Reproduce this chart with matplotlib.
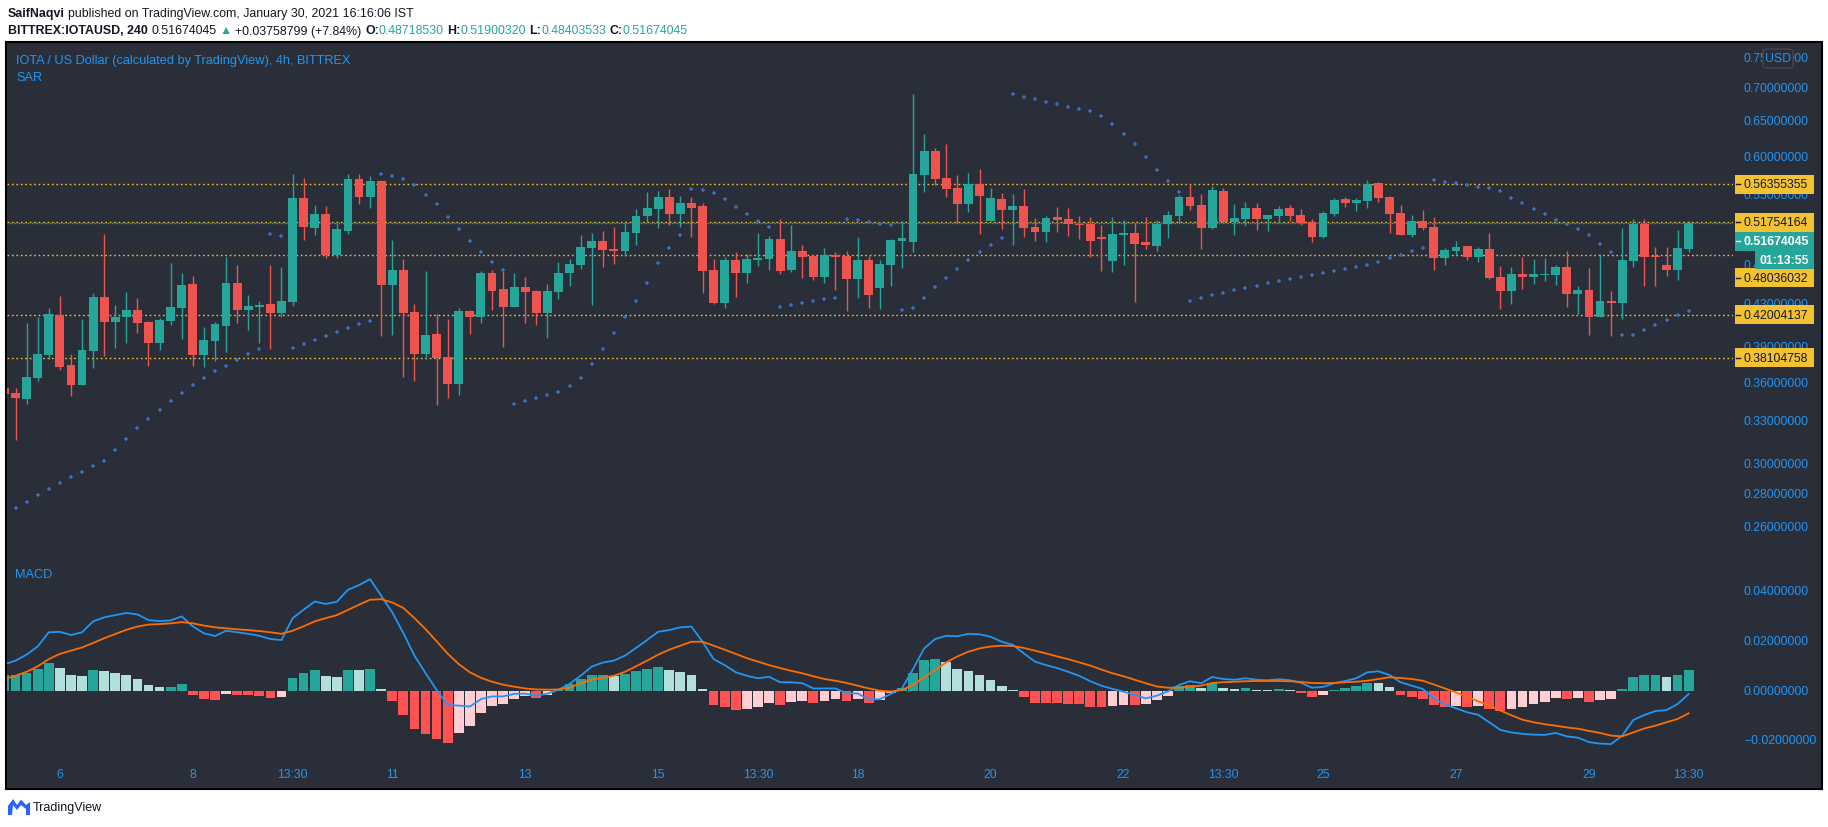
import numpy as np
import matplotlib
matplotlib.use("Agg")
import matplotlib.pyplot as plt
from matplotlib.patches import Rectangle, FancyBboxPatch, Polygon
from matplotlib.lines import Line2D
from matplotlib.transforms import blended_transform_factory

plt.rcParams['font.family'] = ['Liberation Sans', 'DejaVu Sans']

# ---------------- data ----------------
opens = [0.3559, 0.3519, 0.3473, 0.3643, 0.3837, 0.4193, 0.3749, 0.3586, 0.3871, 0.4370,
         0.4133, 0.4177, 0.4243, 0.4130, 0.3942, 0.4142, 0.4265, 0.4500, 0.3837, 0.3960,
         0.4096, 0.4511, 0.4246, 0.4275, 0.4301, 0.4218, 0.4324, 0.5465, 0.5110, 0.5271,
         0.4802, 0.5072, 0.5704, 0.5481, 0.5679, 0.4493, 0.4645, 0.4225, 0.3846, 0.4020,
         0.3816, 0.3594, 0.4234, 0.4180, 0.4613, 0.4450, 0.4275, 0.4470, 0.4430, 0.4218,
         0.4423, 0.4618, 0.4701, 0.4884, 0.4960, 0.4870, 0.4849, 0.5050, 0.5247, 0.5331,
         0.5477, 0.5271, 0.5404, 0.5367, 0.4645, 0.4311, 0.4751, 0.4613, 0.4751, 0.4762,
         0.4982, 0.4645, 0.4849, 0.4794, 0.4572, 0.4805, 0.4794, 0.4551, 0.4751, 0.4460,
         0.4698, 0.4960, 0.4949, 0.5756, 0.6077, 0.5717, 0.5590, 0.5392, 0.5640, 0.5189,
         0.5452, 0.5319, 0.5367, 0.5118, 0.5061, 0.5236, 0.5212, 0.5153, 0.5153, 0.5005,
         0.4740, 0.5027, 0.5050, 0.4949, 0.4904, 0.5153, 0.5247, 0.5477, 0.5379, 0.5107,
         0.5552, 0.5177, 0.5212, 0.5343, 0.5212, 0.5247, 0.5343, 0.5259, 0.5177, 0.5005,
         0.5271, 0.5452, 0.5404, 0.5428, 0.5653, 0.5477, 0.5283, 0.5027, 0.5189, 0.5118,
         0.4773, 0.4849, 0.4904, 0.4783, 0.4870, 0.4572, 0.4430, 0.4603, 0.4572, 0.4592,
         0.4592, 0.4676, 0.4400, 0.4440, 0.4177, 0.4331, 0.4311, 0.4740, 0.5153, 0.4794,
         0.4698, 0.4645, 0.48718530]
highs = [0.3567, 0.3559, 0.4121, 0.4180, 0.4263, 0.4380, 0.3843, 0.4158, 0.4410, 0.5038,
         0.4292, 0.4420, 0.4360, 0.4142, 0.4168, 0.4722, 0.4616, 0.4585, 0.4084, 0.4130,
         0.4783, 0.4698, 0.4390, 0.4331, 0.4698, 0.4680, 0.5769, 0.5717, 0.5379, 0.5367,
         0.5165, 0.5769, 0.5769, 0.5743, 0.5691, 0.4971, 0.4762, 0.4301, 0.4634, 0.4205,
         0.4158, 0.4263, 0.4243, 0.4634, 0.4645, 0.4634, 0.4613, 0.4572, 0.4440, 0.4500,
         0.4730, 0.4762, 0.5027, 0.5050, 0.5072, 0.5118, 0.5177, 0.5331, 0.5539, 0.5552,
         0.5577, 0.5489, 0.5477, 0.5404, 0.4762, 0.4783, 0.4837, 0.4816, 0.5050, 0.5016,
         0.5212, 0.5141, 0.4915, 0.4805, 0.4881, 0.4837, 0.4849, 0.5005, 0.4794, 0.4751,
         0.4982, 0.5189, 0.6911, 0.6314, 0.6118, 0.6173, 0.5756, 0.5782, 0.5834, 0.5590,
         0.5527, 0.5514, 0.5577, 0.5224, 0.5247, 0.5355, 0.5343, 0.5247, 0.5236, 0.5141,
         0.5236, 0.5200, 0.5165, 0.5236, 0.5200, 0.5307, 0.5502, 0.5640, 0.5514, 0.5615,
         0.5590, 0.5392, 0.5416, 0.5404, 0.5259, 0.5367, 0.5379, 0.5331, 0.5212, 0.5307,
         0.5465, 0.5477, 0.5465, 0.5691, 0.5666, 0.5489, 0.5379, 0.5259, 0.5319, 0.5236,
         0.4881, 0.4960, 0.4904, 0.4892, 0.5050, 0.4687, 0.4676, 0.4783, 0.4762, 0.4773,
         0.4698, 0.4849, 0.4480, 0.4666, 0.4816, 0.4430, 0.5107, 0.5212, 0.5212, 0.4892,
         0.4892, 0.5084, 0.51900320]
lows = [0.3503, 0.3167, 0.3434, 0.3618, 0.3796, 0.3709, 0.3497, 0.3586, 0.3726, 0.3828,
        0.3897, 0.3942, 0.4032, 0.3743, 0.3880, 0.4105, 0.3978, 0.3743, 0.3734, 0.3785,
        0.3862, 0.4124, 0.4059, 0.3942, 0.3889, 0.4180, 0.4285, 0.4974, 0.5031, 0.4776,
        0.4776, 0.5042, 0.5394, 0.5347, 0.4005, 0.4014, 0.3651, 0.3618, 0.3796, 0.3427,
        0.3481, 0.3505, 0.4023, 0.4124, 0.4246, 0.3906, 0.4275, 0.4124, 0.4105, 0.3987,
        0.4353, 0.4483, 0.4658, 0.4294, 0.4676, 0.4708, 0.4798, 0.4915, 0.5177, 0.5107,
        0.5141, 0.5118, 0.5005, 0.4410, 0.4301, 0.4263, 0.4370, 0.4511, 0.4687, 0.4645,
        0.4603, 0.4624, 0.4561, 0.4541, 0.4511, 0.4440, 0.4234, 0.4360, 0.4263, 0.4253,
        0.4480, 0.4666, 0.4837, 0.5539, 0.5627, 0.5477, 0.5165, 0.5295, 0.5038, 0.5189,
        0.5095, 0.4915, 0.5005, 0.4960, 0.4949, 0.5061, 0.5016, 0.4982, 0.4783, 0.4634,
        0.4624, 0.4698, 0.4321, 0.4870, 0.4849, 0.4994, 0.5165, 0.5319, 0.4870, 0.5095,
        0.5165, 0.5027, 0.5130, 0.5084, 0.5072, 0.5165, 0.5189, 0.5141, 0.4949, 0.4994,
        0.5247, 0.5355, 0.5307, 0.5343, 0.5416, 0.5050, 0.5027, 0.5005, 0.5084, 0.4645,
        0.4698, 0.4805, 0.4751, 0.4730, 0.4551, 0.4253, 0.4301, 0.4450, 0.4500, 0.4531,
        0.4490, 0.4272, 0.4205, 0.4011, 0.4177, 0.4002, 0.4158, 0.4676, 0.4480, 0.4480,
        0.4582, 0.4541, 0.48403533]
closes = [0.3511, 0.3481, 0.3649, 0.3842, 0.4205, 0.3734, 0.3586, 0.3877, 0.4370, 0.4133,
          0.4177, 0.4243, 0.4124, 0.3942, 0.4149, 0.4272, 0.4490, 0.3837, 0.3966, 0.4112,
          0.4511, 0.4246, 0.4282, 0.4295, 0.4218, 0.4331, 0.5465, 0.5122, 0.5271, 0.4802,
          0.5095, 0.5704, 0.5481, 0.5679, 0.4493, 0.4645, 0.4218, 0.3846, 0.4011, 0.3810,
          0.3594, 0.4234, 0.4180, 0.4613, 0.4433, 0.4275, 0.4470, 0.4420, 0.4218, 0.4430,
          0.4613, 0.4708, 0.4892, 0.4960, 0.4859, 0.4851, 0.5061, 0.5247, 0.5343, 0.5477,
          0.5271, 0.5404, 0.5343, 0.4634, 0.4311, 0.4751, 0.4613, 0.4762, 0.4773, 0.4982,
          0.4634, 0.4849, 0.4783, 0.4572, 0.4805, 0.4783, 0.4551, 0.4751, 0.4390, 0.4708,
          0.4971, 0.4994, 0.5769, 0.6077, 0.5704, 0.5577, 0.5392, 0.5640, 0.5489, 0.5465,
          0.5319, 0.5367, 0.5107, 0.5061, 0.5224, 0.5200, 0.5153, 0.5141, 0.4960, 0.4982,
          0.5038, 0.5050, 0.4926, 0.4915, 0.5153, 0.5259, 0.5477, 0.5367, 0.5107, 0.5565,
          0.5177, 0.5224, 0.5343, 0.5212, 0.5259, 0.5331, 0.5247, 0.5165, 0.5005, 0.5283,
          0.5440, 0.5404, 0.5440, 0.5640, 0.5465, 0.5271, 0.5027, 0.5189, 0.5107, 0.4773,
          0.4859, 0.4892, 0.4783, 0.4870, 0.4561, 0.4430, 0.4603, 0.4572, 0.4603, 0.4603,
          0.4676, 0.4400, 0.4440, 0.4177, 0.4331, 0.4311, 0.4751, 0.5153, 0.4783, 0.4783,
          0.4645, 0.4881, 0.51674045]
sar = [np.nan, 0.2712, 0.2750, 0.2793, 0.2831, 0.2870, 0.2909, 0.2942, 0.2982, 0.3016,
       0.3092, 0.3170, 0.3249, 0.3316, 0.3384, 0.3454, 0.3516, 0.3581, 0.3638, 0.3695,
       0.3737, 0.3789, 0.3840, 0.3884, 0.5034, 0.5012, 0.3893, 0.3928, 0.3963, 0.3999,
       0.4036, 0.4072, 0.4109, 0.4137, 0.5765, 0.5739, 0.5700, 0.5623, 0.5498, 0.5387,
       0.5231, 0.5092, 0.4955, 0.4834, 0.4727, 0.4642, 0.3430, 0.3454, 0.3477, 0.3501,
       0.3524, 0.3572, 0.3638, 0.3754, 0.3884, 0.4027, 0.4175, 0.4328, 0.4507, 0.4716,
       0.4878, 0.5023, 0.5573, 0.5560, 0.5523, 0.5448, 0.5351, 0.5267, 0.5185, 0.5115,
       0.4269, 0.4289, 0.4309, 0.4328, 0.4348, 0.4358, 0.5208, 0.5197, 0.5173, 0.5150,
       0.5138, 0.4241, 0.4260, 0.4358, 0.4467, 0.4558, 0.4652, 0.4748, 0.4834, 0.4911,
       0.4989, 0.6906, 0.6858, 0.6827, 0.6782, 0.6751, 0.6706, 0.6675, 0.6646, 0.6571,
       0.6454, 0.6310, 0.6169, 0.5991, 0.5817, 0.5674, 0.5535, 0.4328, 0.4358, 0.4387,
       0.4407, 0.4437, 0.4457, 0.4477, 0.4507, 0.4528, 0.4548, 0.4569, 0.4590, 0.4610,
       0.4631, 0.4652, 0.4673, 0.4694, 0.4726, 0.4769, 0.4802, 0.4845, 0.4878, 0.5687,
       0.5661, 0.5648, 0.5623, 0.5598, 0.5585, 0.5548, 0.5461, 0.5399, 0.5327, 0.5267,
       0.5196, 0.5150, 0.5092, 0.5023, 0.4922, 0.4834, 0.4008, 0.4008, 0.4054, 0.4100,
       0.4146, 0.4193, 0.4231]
macd_line = [0.0106, 0.0121, 0.0145, 0.0178, 0.0235, 0.0237, 0.0224, 0.0235, 0.0279, 0.0295,
             0.0304, 0.0313, 0.0307, 0.0284, 0.0280, 0.0283, 0.0299, 0.0259, 0.0231, 0.0220,
             0.0241, 0.0235, 0.0229, 0.0221, 0.0208, 0.0204, 0.0291, 0.0326, 0.0359, 0.0349,
             0.0358, 0.0406, 0.0425, 0.0449, 0.0382, 0.0315, 0.0232, 0.0141, 0.0071, 0.0003,
             -0.0058, -0.0060, -0.0064, -0.0034, -0.0023, -0.0023, -0.0013, -0.0012, -0.0020, -0.0012,
             0.0004, 0.0027, 0.0060, 0.0097, 0.0113, 0.0121, 0.0141, 0.0172, 0.0204, 0.0237,
             0.0244, 0.0255, 0.0258, 0.0197, 0.0127, 0.0103, 0.0074, 0.0060, 0.0050, 0.0056,
             0.0034, 0.0034, 0.0030, 0.0009, 0.0009, 0.0009, -0.0011, -0.0011, -0.0036, -0.0034,
             -0.0013, 0.0009, 0.0087, 0.0170, 0.0208, 0.0221, 0.0219, 0.0229, 0.0227, 0.0217,
             0.0197, 0.0185, 0.0150, 0.0117, 0.0103, 0.0091, 0.0076, 0.0060, 0.0038, 0.0020,
             0.0007, -0.0004, -0.0017, -0.0031, -0.0020, -0.0003, 0.0023, 0.0038, 0.0030, 0.0055,
             0.0047, 0.0044, 0.0050, 0.0044, 0.0042, 0.0046, 0.0042, 0.0032, 0.0012, 0.0015,
             0.0030, 0.0039, 0.0050, 0.0074, 0.0078, 0.0063, 0.0034, 0.0020, 0.0007, -0.0031,
             -0.0056, -0.0071, -0.0087, -0.0097, -0.0127, -0.0158, -0.0168, -0.0174, -0.0177, -0.0178,
             -0.0170, -0.0184, -0.0189, -0.0207, -0.0213, -0.0215, -0.0181, -0.0118, -0.0098, -0.0082,
             -0.0078, -0.0054, -0.0013]
signal_line = [0.0047, 0.0060, 0.0076, 0.0098, 0.0127, 0.0148, 0.0161, 0.0174, 0.0192, 0.0211,
               0.0228, 0.0245, 0.0258, 0.0266, 0.0268, 0.0271, 0.0276, 0.0271, 0.0262, 0.0255,
               0.0251, 0.0247, 0.0244, 0.0240, 0.0235, 0.0229, 0.0241, 0.0259, 0.0279, 0.0292,
               0.0304, 0.0325, 0.0346, 0.0366, 0.0368, 0.0355, 0.0333, 0.0292, 0.0248, 0.0199,
               0.0149, 0.0107, 0.0074, 0.0052, 0.0036, 0.0024, 0.0016, 0.0009, 0.0005, 0.0004,
               0.0005, 0.0012, 0.0030, 0.0044, 0.0052, 0.0060, 0.0076, 0.0098, 0.0121, 0.0145,
               0.0165, 0.0181, 0.0197, 0.0197, 0.0181, 0.0165, 0.0148, 0.0131, 0.0117, 0.0103,
               0.0091, 0.0080, 0.0070, 0.0058, 0.0047, 0.0040, 0.0031, 0.0020, 0.0009, 0.0000,
               -0.0003, 0.0003, 0.0023, 0.0054, 0.0083, 0.0114, 0.0138, 0.0157, 0.0170, 0.0178,
               0.0181, 0.0180, 0.0172, 0.0161, 0.0150, 0.0138, 0.0127, 0.0114, 0.0101, 0.0085,
               0.0070, 0.0058, 0.0044, 0.0030, 0.0017, 0.0012, 0.0012, 0.0016, 0.0020, 0.0031,
               0.0034, 0.0036, 0.0038, 0.0039, 0.0039, 0.0039, 0.0038, 0.0035, 0.0031, 0.0030,
               0.0031, 0.0034, 0.0036, 0.0040, 0.0047, 0.0054, 0.0051, 0.0047, 0.0040, 0.0025,
               0.0009, -0.0007, -0.0025, -0.0043, -0.0059, -0.0080, -0.0099, -0.0117, -0.0127, -0.0135,
               -0.0141, -0.0148, -0.0153, -0.0162, -0.0170, -0.0181, -0.0184, -0.0168, -0.0152, -0.0141,
               -0.0127, -0.0114, -0.0091]
histogram = [0.0062, 0.0063, 0.0071, 0.0087, 0.0111, 0.0091, 0.0063, 0.0059, 0.0083, 0.0079,
             0.0071, 0.0063, 0.0047, 0.0023, 0.0014, 0.0016, 0.0027, -0.0016, -0.0032, -0.0038,
             -0.0013, -0.0016, -0.0018, -0.0021, -0.0028, -0.0024, 0.0051, 0.0071, 0.0083, 0.0059,
             0.0055, 0.0083, 0.0082, 0.0087, 0.0007, -0.0040, -0.0097, -0.0153, -0.0173, -0.0193,
             -0.0209, -0.0169, -0.0141, -0.0089, -0.0060, -0.0052, -0.0032, -0.0020, -0.0028, -0.0016,
             0.0007, 0.0027, 0.0047, 0.0063, 0.0064, 0.0059, 0.0067, 0.0079, 0.0087, 0.0095,
             0.0083, 0.0075, 0.0063, 0.0007, -0.0056, -0.0064, -0.0076, -0.0072, -0.0064, -0.0048,
             -0.0056, -0.0044, -0.0040, -0.0048, -0.0040, -0.0032, -0.0040, -0.0032, -0.0048, -0.0036,
             -0.0008, 0.0011, 0.0071, 0.0123, 0.0127, 0.0115, 0.0087, 0.0079, 0.0063, 0.0043,
             0.0019, 0.0003, -0.0024, -0.0048, -0.0049, -0.0050, -0.0052, -0.0053, -0.0064, -0.0065,
             -0.0060, -0.0056, -0.0058, -0.0055, -0.0036, -0.0020, 0.0019, 0.0024, 0.0012, 0.0030,
             0.0011, 0.0005, 0.0009, 0.0004, 0.0003, 0.0008, 0.0003, -0.0008, -0.0024, -0.0016,
             0.0003, 0.0011, 0.0019, 0.0031, 0.0030, 0.0015, -0.0016, -0.0024, -0.0032, -0.0056,
             -0.0064, -0.0063, -0.0065, -0.0060, -0.0072, -0.0080, -0.0072, -0.0064, -0.0052, -0.0044,
             -0.0028, -0.0032, -0.0031, -0.0044, -0.0036, -0.0032, 0.0008, 0.0056, 0.0064, 0.0065,
             0.0056, 0.0064, 0.0085]

level_prices = [0.56355355, 0.51754164, 0.48036032, 0.42004137, 0.38104758]
price_ticks = [0.75, 0.70, 0.65, 0.60, 0.55, 0.47, 0.43, 0.39, 0.36, 0.33, 0.30, 0.28, 0.26]
macd_ticks = [0.04, 0.02, 0.0, -0.02]
date_tick_idx = [5, 17, 26, 35, 47, 59, 68, 77, 89, 101, 110, 119, 131, 143, 152]
date_tick_labels = ['6', '8', '13:30', '11', '13', '15', '13:30', '18', '20', '22', '13:30',
                    '25', '27', '29', '13:30']
countdown = '01:13:55'

# ---------------- styling ----------------
W, H = 1828, 828
BG = '#2A2E39'
GREEN = '#26A69A'
RED = '#EF5350'
BLUE = '#2196F3'
YEL = '#F2C232'
SARC = '#3B6DBA'
INK = '#131722'
AXFS = 8.8

fig = plt.figure(figsize=(W / 100, H / 100), dpi=100)
fig.patch.set_facecolor('white')


def fx(x):
    return x / W


def fy(y):
    return 1 - y / H


bg = fig.add_axes([fx(6), fy(790), 1816 / W, 747 / H], zorder=-1)
bg.set_facecolor(BG)
bg.set_xticks([])
bg.set_yticks([])
for s in bg.spines.values():
    s.set_color('#000000')
    s.set_linewidth(1.5)

PL, PR = 7, 1733
ax = fig.add_axes([fx(PL), fy(560), (PR - PL) / W, (560 - 43) / H])
am = fig.add_axes([fx(PL), fy(760), (PR - PL) / W, 200 / H])
for a in (ax, am):
    a.patch.set_alpha(0)
    for s in a.spines.values():
        s.set_visible(False)
    a.set_xticks([])
    a.set_yticks([])
    a.set_xlim(0.23, 156.0)

o = np.array(opens); h = np.array(highs); l = np.array(lows); c = np.array(closes)
x = np.arange(len(o))
ax.set_yscale('log')
ax.set_ylim(0.2419, 0.7771)
ax.yaxis.set_minor_locator(matplotlib.ticker.NullLocator())
ax.set_yticks([])
cols = np.where(c >= o, GREEN, RED)
ax.vlines(x, l, h, colors=cols, linewidth=1.0, zorder=3)
ax.bar(x, np.maximum(np.abs(c - o), 0.0009), bottom=np.minimum(o, c), width=0.8,
       color=cols, linewidth=0, zorder=4)
ax.scatter(x, sar, marker='+', s=12, linewidths=1.1, color=SARC, zorder=5)
for lv in level_prices:
    ax.axhline(lv, color=YEL, linewidth=1.0, linestyle=(0, (1.2, 2.0)), zorder=2)
ax.axhline(closes[-1], color=GREEN, linewidth=1.0, linestyle=(1.6, (1.2, 2.0)), zorder=2)

# MACD pane
hv = np.array(histogram)
hcols = []
for i, v in enumerate(hv):
    rising = True if i == 0 else v > hv[i - 1]
    if v >= 0:
        hcols.append('#26A69A' if rising else '#B2DFDB')
    else:
        hcols.append('#FFCDD2' if rising else '#FF5252')
am.set_ylim(-0.0275, 0.0530)
am.bar(x, hv, width=0.88, color=hcols, linewidth=0, zorder=2)
am.plot(x, macd_line, color=BLUE, linewidth=1.3, zorder=3)
am.plot(x, signal_line, color='#FF6D00', linewidth=1.3, zorder=3)


def py(v):
    return H - ax.transData.transform((0, v))[1]


def my(v):
    return H - am.transData.transform((0, v))[1]


# right price scale labels
for p in price_ticks:
    fig.text(fx(1744), fy(py(p)), f"{p:.8f}", color=BLUE, fontsize=AXFS,
             ha='left', va='center', zorder=3)
for v in macd_ticks:
    s = f"{v:.8f}".replace('-', '\u2212')
    fig.text(fx(1744), fy(my(v)), s, color=BLUE, fontsize=AXFS, ha='left', va='center', zorder=3)


def label_box(yc, text, fc, tc, bold=False, x0=1735, x1=1814, hh=19, tick=True):
    fig.add_artist(Rectangle((fx(x0), fy(yc + hh / 2)), (x1 - x0) / W, hh / H,
                             transform=fig.transFigure, facecolor=fc, edgecolor='none', zorder=5))
    if tick:
        fig.add_artist(Line2D([fx(x0 + 1), fx(x0 + 5)], [fy(yc), fy(yc)], color=tc,
                              linewidth=1, transform=fig.transFigure, zorder=6))
    fig.text(fx(x0 + 9), fy(yc), text, color=tc, fontsize=AXFS,
             fontweight='bold' if bold else 'normal', ha='left', va='center', zorder=6)


label_shift = {2: 22.7}
for k, lv in enumerate(level_prices):
    label_box(py(lv) + label_shift.get(k, 0), f"{lv:.8f}", YEL, INK)
label_box(py(closes[-1]) + 18.3, f"{closes[-1]:.8f}", GREEN, 'white', bold=True)
fig.add_artist(Rectangle((fx(1755), fy(270)), 59 / W, 18 / H, transform=fig.transFigure,
                         facecolor=GREEN, edgecolor='none', zorder=5))
fig.text(fx(1784.5), fy(261), countdown, color='white', fontsize=AXFS, fontweight='bold',
         ha='center', va='center', zorder=6)

# USD badge
fig.add_artist(FancyBboxPatch((fx(1763), fy(69)), 30 / W, 19 / H,
                              boxstyle='round,pad=0,rounding_size=0.003',
                              transform=fig.transFigure, facecolor=BG, edgecolor='#434651',
                              linewidth=1, zorder=5))
fig.text(fx(1778), fy(59.5), 'USD', color=BLUE, fontsize=AXFS, ha='center', va='center', zorder=6)

# legends
fig.text(fx(16), fy(60.7), 'IOTA / US Dollar (calculated by TradingView), 4h, BITTREX',
         color=BLUE, fontsize=9.2, ha='left', va='center', zorder=6)
fig.text(fx(16), fy(78.3), 'SAR', color=BLUE, fontsize=9.2, ha='left', va='center', zorder=6)
fig.text(fx(15), fy(575), 'MACD', color=BLUE, fontsize=9.2, ha='left', va='center', zorder=6)

# time axis
tr = blended_transform_factory(am.transData, fig.transFigure)
for xi, lab in zip(date_tick_idx, date_tick_labels):
    fig.text(xi, fy(775), lab, transform=tr, color=BLUE, fontsize=AXFS,
             ha='center', va='center', zorder=6)

# header
renderer = fig.canvas.get_renderer()


def draw_runs(xpos, ybase, parts, size):
    sp = 0.278 * size * 100 / 72
    for s, color, weight in parts:
        lead = len(s) - len(s.lstrip(' '))
        trail = len(s) - len(s.rstrip(' '))
        core = s.strip(' ')
        xpos += lead * sp
        t = fig.text(fx(xpos), fy(ybase), core, fontsize=size, color=color, fontweight=weight,
                     ha='left', va='baseline')
        xpos += t.get_window_extent(renderer).width
        xpos += trail * sp


draw_runs(8, 17.5, [('SaifNaqvi', INK, 'bold'),
                    (' published on TradingView.com, January 30, 2021 16:16:06 IST', INK, 'normal')], 8.9)
draw_runs(8, 34.5, [('BITTREX:IOTAUSD, 240', INK, 'bold'),
                    (f' {closes[-1]:.8f} ', INK, 'normal'),
                    ('\u25B2', GREEN, 'normal'),
                    (' +0.03758799 (+7.84%) ', INK, 'normal'),
                    ('O:', INK, 'bold'), (f'{opens[-1]:.8f}', GREEN, 'normal'),
                    (' H:', INK, 'bold'), (f'{highs[-1]:.8f}', GREEN, 'normal'),
                    (' L:', INK, 'bold'), (f'{lows[-1]:.8f}', GREEN, 'normal'),
                    (' C:', INK, 'bold'), (f'{closes[-1]:.8f}', GREEN, 'normal')], 8.9)

# TradingView logo
logo = [(8, 816), (8, 807), (13, 800), (17, 806), (21, 800.5), (26, 806), (30, 803),
        (30, 816), (26, 816), (26, 810), (21, 806), (17, 811), (13, 806), (12, 816)]
fig.add_artist(Polygon([(fx(a), fy(b)) for a, b in logo], closed=True, transform=fig.transFigure,
                       facecolor='#2962FF', edgecolor='none'))
fig.text(fx(33), fy(808), 'TradingView', color=INK, fontsize=9, ha='left', va='center')

fig.savefig('out.png', dpi=100, facecolor='white')
